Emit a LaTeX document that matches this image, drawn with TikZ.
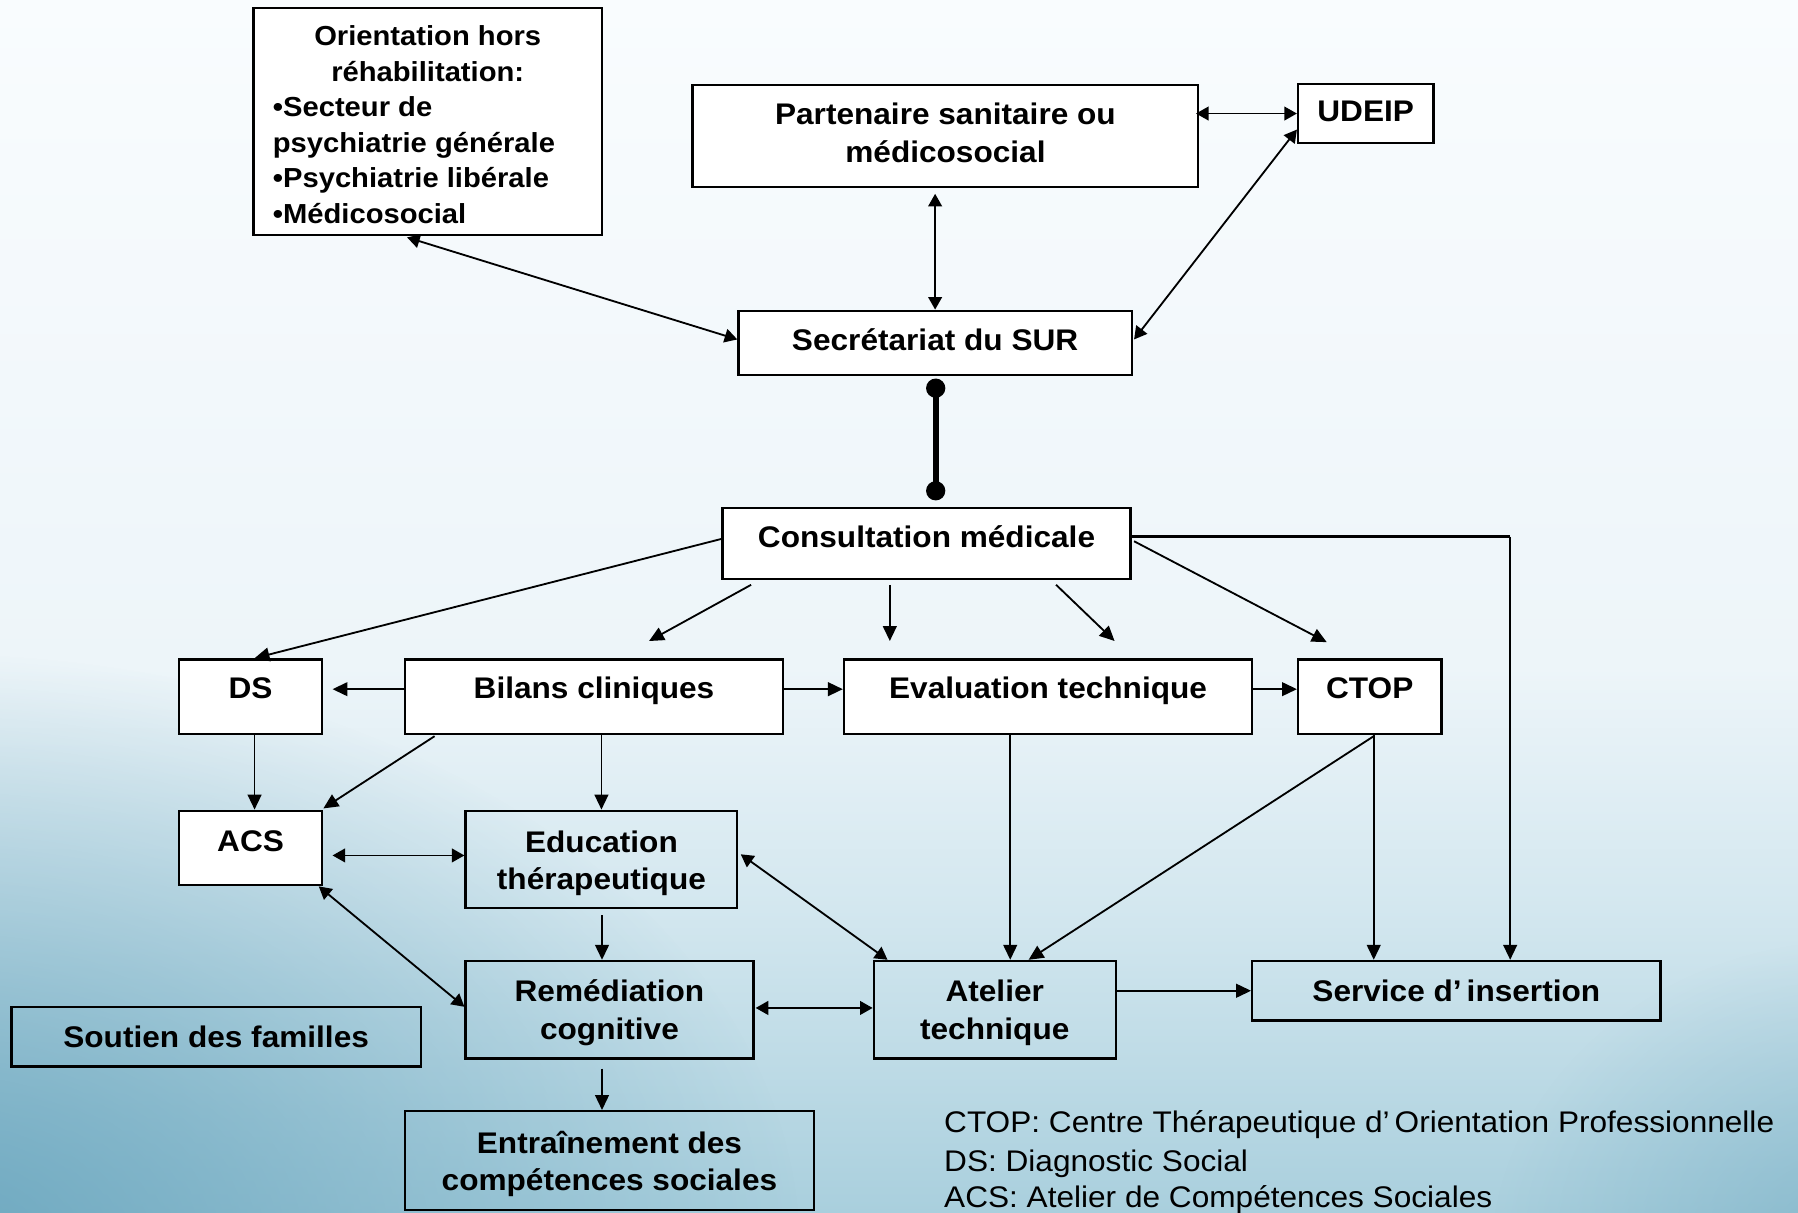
\documentclass[tikz,border=0pt]{standalone}
\usepackage{fontspec}
\setmainfont{Liberation Sans}[FakeStretch=1.06]
\usetikzlibrary{arrows.meta,calc,fadings}

\definecolor{bgtop}{HTML}{F9FCFE}
\definecolor{bgmid}{HTML}{EDF5F9}
\definecolor{bglow}{HTML}{D3E7EF}
\definecolor{bgbot}{HTML}{A9CFDD}
\definecolor{tealdeep}{HTML}{6AA6BE}

% background: light sky fading to a pale teal towards the bottom
\pgfdeclareverticalshading{skybg}{100bp}{color(0bp)=(bgbot); color(25bp)=(bgbot); color(37.5bp)=(bglow); color(47.5bp)=(bgmid); color(75bp)=(bgtop); color(100bp)=(bgtop)}
\tikzfading[name=softspot, inner color=transparent!0, outer color=transparent!100]

\newcommand{\boxfont}{\fontsize{13pt}{16.5pt}\selectfont\bfseries}
\newcommand{\orientfont}{\fontsize{12pt}{15.5pt}\selectfont\bfseries}
\newcommand{\legendfont}{\fontsize{13pt}{16.5pt}\selectfont}
% shift a block of text vertically without changing its size
\newcommand{\shiftby}[2]{\raisebox{#1}[\height][\depth]{#2}}
\newcommand{\twolines}[2]{\begin{tabular}{@{}c@{}}#1\\#2\end{tabular}}

\begin{document}
\begin{tikzpicture}[x=0.5pt,y=-0.5pt,
  box/.style={draw=black, line width=1pt, inner sep=0pt, align=center, font=\boxfont},
  wbox/.style={box, fill=white},
  oneline/.style={text height=9.5pt, text depth=2.8pt},
  arr/.style={line width=0.8pt, -{Triangle[length=6.5pt,width=6pt]}},
  arrs/.style={line width=0.8pt, {Triangle[length=5.5pt,width=6pt]}-{Triangle[length=5.5pt,width=6pt]}},
  legend/.style={inner sep=0pt, anchor=base west, font=\legendfont}]

% ---- background ----
\useasboundingbox (0,0) rectangle (1568,1057);
\begin{scope}
  \clip (0,0) rectangle (1568,1057);
  \shade[shading=skybg] (0,0) rectangle (1568,1057);
  \fill[tealdeep, opacity=0.95, path fading=softspot] (-60,1090) ellipse [x radius=380pt, y radius=260pt];
  \fill[tealdeep, opacity=0.55, path fading=softspot] (1620,1100) ellipse [x radius=160pt, y radius=140pt];
\end{scope}

% ---- boxes ----
\node[wbox, minimum width=152pt, minimum height=99pt, font=\orientfont] (orient) at (373,106)
  {\shiftby{-1.3pt}{\parbox{135pt}{\centering Orientation hors\\réhabilitation:\par\raggedright
   •Secteur de\\psychiatrie générale\\•Psychiatrie libérale\\•Médicosocial}}};
\node[wbox, minimum width=220.5pt, minimum height=44.5pt] (part) at (824.5,118.5)
  {\twolines{Partenaire sanitaire ou}{médicosocial}};
\node[wbox, oneline, minimum width=59pt, minimum height=26pt] (udeip) at (1191,99) {UDEIP};
\node[wbox, oneline, minimum width=171.5pt, minimum height=28pt] (secr) at (815.5,299) {Secrétariat du SUR};
\node[wbox, oneline, minimum width=178pt, minimum height=31pt] (cons) at (808,474) {\raisebox{1.7pt}{Consultation médicale}};

\node[wbox, oneline, minimum width=62.5pt, minimum height=32.5pt] (ds) at (218.5,607.5) {\raisebox{2.4pt}{DS}};
\node[wbox, oneline, minimum width=165pt, minimum height=32.5pt] (bil) at (518,607.5) {\raisebox{2.4pt}{Bilans cliniques}};
\node[wbox, oneline, minimum width=178pt, minimum height=32.5pt] (eval) at (914,607.5) {\raisebox{2.4pt}{Evaluation technique}};
\node[wbox, oneline, minimum width=62.5pt, minimum height=32.5pt] (ctop) at (1194.5,607.5) {\raisebox{2.4pt}{CTOP}};

\node[wbox, oneline, minimum width=62.5pt, minimum height=32.5pt] (acs) at (218.5,739.5) {\raisebox{2pt}{ACS}};
\node[box, minimum width=118.5pt, minimum height=42.5pt] (edu) at (524.5,749.5)
  {\shiftby{-1.7pt}{\twolines{Education}{thérapeutique}}};
\node[box, minimum width=125.5pt, minimum height=42.5pt] (rem) at (531.5,880.5)
  {\shiftby{-1.5pt}{\twolines{Remédiation}{cognitive}}};
\node[box, minimum width=105.5pt, minimum height=42.5pt] (atel) at (867.5,880.5)
  {\shiftby{-1.5pt}{\twolines{Atelier}{technique}}};
\node[box, oneline, minimum width=178pt, minimum height=26pt] (serv) at (1270,864) {\raisebox{-1.5pt}{Service d’\,insertion}};
\node[box, oneline, minimum width=178.5pt, minimum height=26pt] (sout) at (188.5,904) {\raisebox{-1.5pt}{Soutien des familles}};
\node[box, minimum width=178.5pt, minimum height=43pt] (entr) at (531.5,1012)
  {\shiftby{-1.7pt}{\twolines{Entraînement des}{compétences sociales}}};

% ---- legend ----
\node[legend] (lg1) at (823,987.3) {CTOP: Centre Thérapeutique d’\,Orientation Professionnelle};
\node[legend] (lg2) at (823,1021.3) {DS: Diagnostic Social};
\node[legend] (lg3) at (823,1053.3) {ACS: Atelier de Compétences Sociales};

% ---- upper links ----
\draw[arrs] ($(orient.south)+(-18,1)$) -- ($(secr.west)+(0,-3)$);
\draw[arrs] (secr.north) -- ($(secr.north |- part.south)+(0,5)$);
\draw[arrs] (udeip.west) -- ($(udeip.west -| part.east)+(-3,0)$);
\draw[arrs] ($(secr.east)+(1,-3)$) -- ($(udeip.south west)+(0,-13)$);

% secretariat -- consultation, heavy link with dots
\coordinate (dtop) at ($(secr.south)+(0.5,10.5)$);
\coordinate (dbot) at ($(cons.north)+(8,-14)$);
\draw[line width=2.6pt] (dtop) -- (dbot);
\fill (dtop) circle[radius=4.2pt];
\fill (dbot) circle[radius=4.2pt];

% ---- consultation outputs ----
\draw[arr] ($(cons.west)+(0,-4)$) -- ($(ds.north)+(3.5,0)$);
\draw[arr] ($(cons.south west)+(26,4)$) -- ($(bil.north)+(48,-15)$);
\draw[arr] ($(cons.south)+(-32,4)$) -- ($(eval.north)+(-138,-15)$);
\draw[arr] ($(cons.south)+(113,4)$) -- ($(eval.north)+(58,-15)$);
\draw[arr] ($(cons.east)+(2,-2)$) -- ($(ctop.north)+(-37.5,-14)$);
\coordinate (turn) at ($(cons.east)+(330,-6)$);
\draw[line width=1.4pt] ($(cons.east)+(0,-6)$) -- (turn);
\draw[arr] (turn) -- (turn |- serv.north);

% ---- middle row ----
\draw[arr] ($(bil.west)+(0,-6.5)$) -- ($(ds.east)+(8,-6.5)$);
\draw[arr] ($(bil.east)+(0,-6.5)$) -- ($(eval.west)+(0,-6.5)$);
\draw[arr] ($(eval.east)+(0,-6.5)$) -- ($(ctop.west)+(0,-6.5)$);
\draw[arr] ($(ds.south)+(3.5,0)$) -- ($(acs.north)+(3.5,0)$);
\draw[arr] ($(bil.south west)+(27,1)$) -- ($(acs.north east)+(0,-1)$);
\draw[arr] (edu.north |- bil.south) -- (edu.north);

% ---- lower part ----
\draw[arrs] ($(acs.east)+(8,6.5)$) -- ($(edu.west)+(0,-3.5)$);
\draw[arrs] ($(acs.south east)+(-4,0)$) -- ($(rem.west)+(0,-2.5)$);
\draw[arr] ($(edu.south)+(0.5,5)$) -- ($(rem.north)+(-6.5,0)$);
\draw[arrs] ($(edu.east)+(2,-4.5)$) -- ($(atel.north west)+(13,0)$);
\draw[arrs] ($(rem.east)+(1,-1.5)$) -- ($(atel.west)+(0,-1.5)$);
\draw[arr] ($(rem.south)+(-6.5,8)$) -- ($(entr.north)+(-6.5,0)$);
\draw[arr] ($(eval.south)+(-33,0)$) -- ($(atel.north)+(13.5,0)$);
\draw[arr] ($(ctop.south)+(3.5,1)$) -- ($(atel.north)+(29.5,0)$);
\draw[arr] ($(ctop.south)+(3.5,0)$) -- ($(serv.north)+(-72,0)$);
\draw[arr] ($(atel.east)+(0,-16.5)$) -- (serv.west);
\end{tikzpicture}
\end{document}
